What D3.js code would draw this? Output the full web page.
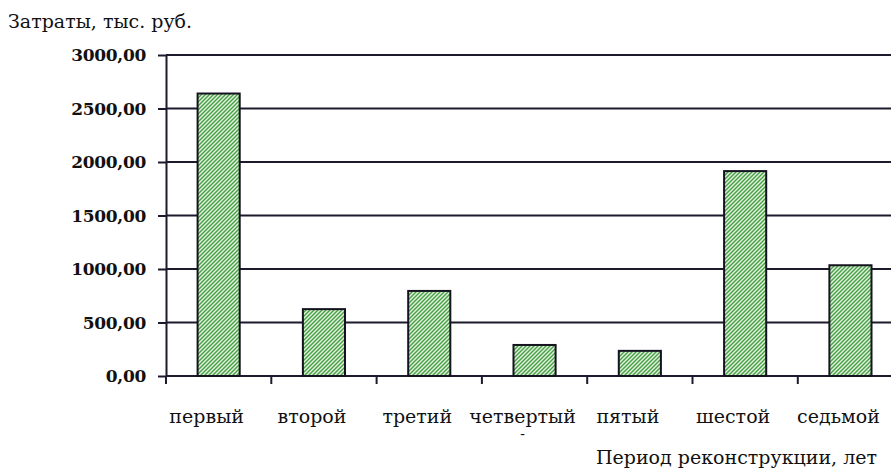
<!DOCTYPE html>
<html>
<head>
<meta charset="utf-8">
<script src="https://cdn.jsdelivr.net/npm/d3@7"></script>
<style>
  html, body { margin: 0; padding: 0; background: #fff; }
  svg { display: block; }
  text { font-family: "DejaVu Serif", serif; }
</style>
</head>
<body>
<svg id="chart" width="891" height="469"></svg>
<script>
// Costs of reconstruction by period, thousand roubles
const categories = ["первый", "второй", "третий", "четвертый -", "пятый", "шестой", "седьмой"];
const costs = [2640, 625, 795, 290, 235, 1915, 1035];
const yTicks = [0, 500, 1000, 1500, 2000, 2500, 3000];
const yTitle = "Затраты, тыс. руб.";
const xTitle = "Период реконструкции, лет";

const W = 891, H = 469;
const left = 166, bandW = 105.3;
const svg = d3.select("#chart");
const lineColor = "#1c1a2c";
const textColor = "#111";

// diagonal green hatch fill
const defs = svg.append("defs");
const pat = defs.append("pattern")
  .attr("id", "hatch")
  .attr("patternUnits", "userSpaceOnUse")
  .attr("width", 4).attr("height", 4);
pat.append("rect").attr("width", 4).attr("height", 4).attr("fill", "#e2f1dc");
pat.append("path")
  .attr("d", "M-1,1 L1,-1 M0,4 L4,0 M3,5 L5,3")
  .attr("stroke", "#46a046").attr("stroke-width", 1.4);

const x = d3.scaleBand()
  .domain(categories)
  .range([left, left + bandW * categories.length])
  .paddingInner(0.6).paddingOuter(0.3);

const y = d3.scaleLinear().domain([0, 3000]).range([376, 55]);

// horizontal gridlines
svg.append("g").selectAll("line")
  .data(yTicks.filter(d => d > 0))
  .join("line")
  .attr("x1", left).attr("x2", W)
  .attr("y1", d => y(d)).attr("y2", d => y(d))
  .attr("stroke", lineColor).attr("stroke-width", 2);

// y axis
const yAxis = svg.append("g")
  .attr("transform", `translate(${left},0)`)
  .call(d3.axisLeft(y).tickValues(yTicks).tickSize(8).tickSizeOuter(0).tickFormat(() => ""));
yAxis.select(".domain").attr("stroke", lineColor).attr("stroke-width", 2);
yAxis.selectAll(".tick line").attr("stroke", lineColor).attr("stroke-width", 2);

// y tick labels
svg.append("g").selectAll("text")
  .data(yTicks)
  .join("text")
  .attr("x", 146)
  .attr("y", d => y(d) + 6)
  .attr("text-anchor", "end")
  .attr("font-size", 17)
  .attr("font-weight", "bold")
  .attr("letter-spacing", -0.3)
  .attr("fill", textColor)
  .text(d => d3.format(".2f")(d).replace(".", ","));

// x axis line and boundary ticks
svg.append("line")
  .attr("x1", left).attr("x2", W)
  .attr("y1", y(0)).attr("y2", y(0))
  .attr("stroke", lineColor).attr("stroke-width", 2);
svg.append("g").selectAll("line")
  .data(d3.range(categories.length + 1))
  .join("line")
  .attr("x1", i => left + i * bandW).attr("x2", i => left + i * bandW)
  .attr("y1", y(0)).attr("y2", y(0) + 8)
  .attr("stroke", lineColor).attr("stroke-width", 2);

// bars
svg.append("g").selectAll("rect")
  .data(categories.map((c, i) => ({ c, v: costs[i] })))
  .join("rect")
  .attr("x", d => x(d.c))
  .attr("y", d => y(d.v))
  .attr("width", x.bandwidth())
  .attr("height", d => y(0) - y(d.v))
  .attr("fill", "url(#hatch)")
  .attr("stroke", "#15131f").attr("stroke-width", 2);

// category labels, wrapped at spaces
const lab = svg.append("g").selectAll("text")
  .data(categories)
  .join("text")
  .attr("transform", d => `translate(${x(d) + x.bandwidth() / 2 - 12},423)`)
  .attr("text-anchor", "middle")
  .attr("font-size", 19)
  .attr("fill", textColor);
lab.each(function(d) {
  const t = d3.select(this);
  d.split(" ").forEach((w, i) => {
    t.append("tspan").attr("x", 0).attr("dy", i ? 16 : 0)
      .attr("font-size", i ? 14 : null).text(w);
  });
});

// axis titles
svg.append("text")
  .attr("x", 8).attr("y", 28)
  .attr("font-size", 19)
  .attr("fill", textColor)
  .text(yTitle);
svg.append("text")
  .attr("x", 877).attr("y", 464)
  .attr("text-anchor", "end")
  .attr("font-size", 19)
  .attr("fill", textColor)
  .text(xTitle);
</script>
</body>
</html>
